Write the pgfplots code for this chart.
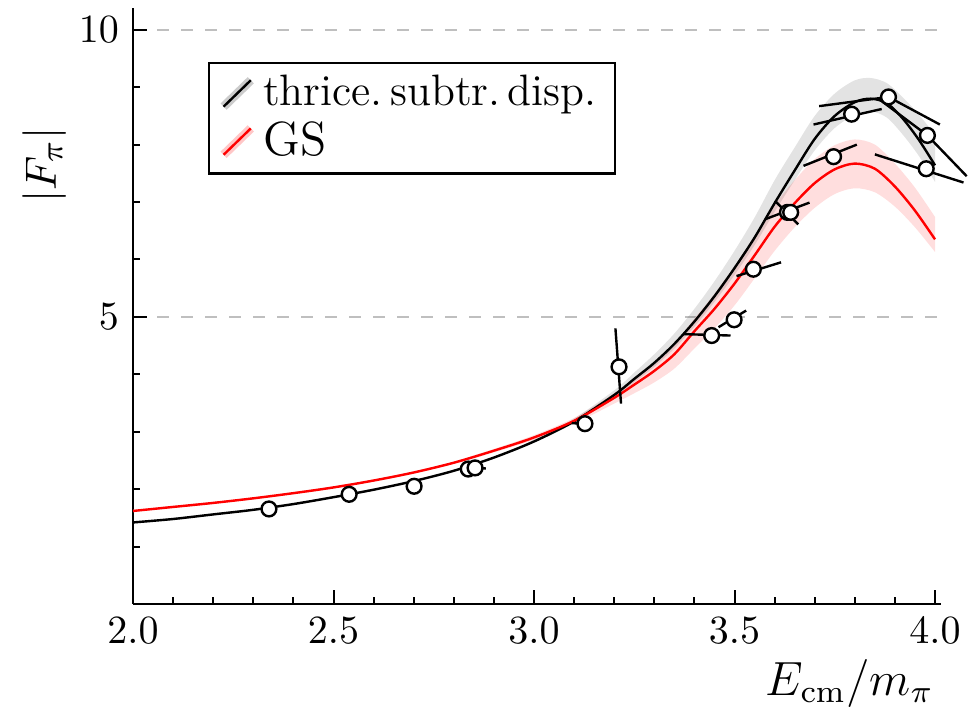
\documentclass[border=0pt]{standalone}
\usepackage{pgfplots}
\pgfplotsset{compat=1.18}
\usepackage{pgfplotstable}
\usepgfplotslibrary{fillbetween}

\pgfplotstableread{
x y u l
2.00 1.42 1.44 1.40
2.10 1.48 1.50 1.46
2.20 1.56 1.58 1.54
2.30 1.64 1.66 1.62
2.40 1.74 1.76 1.72
2.50 1.86 1.88 1.84
2.60 1.99 2.01 1.97
2.70 2.14 2.16 2.12
2.80 2.32 2.34 2.30
2.90 2.55 2.57 2.53
3.00 2.83 2.86 2.81
3.10 3.18 3.23 3.15
3.20 3.64 3.72 3.59
3.25 3.92 4.03 3.86
3.30 4.20 4.35 4.13
3.35 4.53 4.71 4.45
3.40 4.92 5.14 4.83
3.45 5.36 5.62 5.26
3.50 5.85 6.15 5.73
3.55 6.38 6.73 6.25
3.60 6.98 7.38 6.83
3.65 7.55 7.95 7.38
3.70 8.10 8.50 7.90
3.75 8.50 8.89 8.29
3.80 8.74 9.12 8.52
3.84 8.80 9.16 8.58
3.88 8.72 9.07 8.47
3.92 8.45 8.82 8.17
3.96 8.08 8.52 7.80
4.00 7.64 8.17 7.35
}\blackcurve

\pgfplotstableread{
x y u l
2.00 1.62 1.64 1.60
2.10 1.69 1.71 1.67
2.20 1.76 1.78 1.74
2.30 1.84 1.86 1.82
2.40 1.93 1.95 1.91
2.50 2.03 2.05 2.01
2.60 2.15 2.17 2.13
2.70 2.29 2.31 2.27
2.80 2.46 2.48 2.44
2.90 2.67 2.70 2.64
3.00 2.90 2.94 2.86
3.10 3.19 3.24 3.14
3.20 3.59 3.67 3.49
3.25 3.82 3.93 3.67
3.30 4.06 4.21 3.86
3.35 4.35 4.53 4.10
3.40 4.75 4.97 4.45
3.45 5.14 5.40 4.80
3.50 5.58 5.88 5.20
3.55 6.07 6.41 5.67
3.60 6.57 6.95 6.15
3.65 6.98 7.38 6.56
3.70 7.33 7.75 6.90
3.75 7.57 7.99 7.14
3.80 7.67 8.09 7.24
3.85 7.58 8.00 7.17
3.90 7.27 7.67 6.92
3.95 6.85 7.25 6.56
4.00 6.35 6.74 6.13
}\redcurve

\pgfplotstableread{
x y
2.339 1.655
2.539 1.91
2.701 2.05
2.836 2.35
2.853 2.37
3.127 3.14
3.212 4.13
3.443 4.675
3.499 4.95
3.547 5.83
3.632 6.82
3.640 6.82
3.747 7.79
3.792 8.53
3.884 8.83
3.981 8.16
3.978 7.58
}\points

\begin{document}
\begin{tikzpicture}
\begin{axis}[
  scale only axis,
  width=202pt, height=149pt,
  xmin=2, xmax=4.015, ymin=0, ymax=10.38,
  clip=false,
  axis lines=left,
  axis line style={-, line width=0.6pt},
  xtick={2,2.5,3,3.5,4},
  minor x tick num=4,
  ytick={5,10},
  minor ytick={1,2,3,4,6,7,8,9},
  tick align=inside,
  major tick length=3.5pt,
  minor tick length=1.75pt,
  tick style={line width=0.5pt, black},
  ymajorgrids,
  major grid style={dash pattern=on 3pt off 3pt, black!25, line width=0.4pt},
  xticklabel style={/pgf/number format/.cd, fixed, fixed zerofill, precision=1},
  ylabel={$|F_\pi|$},
  ylabel style={at={(axis description cs:-0.109,0.7366)}, anchor=center, font=\fontsize{11}{13}\selectfont},
  xlabel={$E_{\mathrm{cm}}/m_\pi$},
  xlabel style={at={(axis description cs:0.887,-0.1326)}, anchor=center, font=\fontsize{11.5}{13}\selectfont},
  legend cell align=left,
  legend style={at={(axis description cs:0.0928,0.9094)}, anchor=north west, draw=black, line width=0.6pt,
    inner xsep=2.5pt, inner ysep=1pt, row sep=-1.5pt},
]
% bands
\addplot[name path=ru, draw=none, smooth, forget plot] table[x=x,y=u]{\redcurve};
\addplot[name path=rl, draw=none, smooth, forget plot] table[x=x,y=l]{\redcurve};
\addplot[red!13, forget plot] fill between[of=ru and rl];
\addplot[name path=bu, draw=none, smooth, forget plot] table[x=x,y=u]{\blackcurve};
\addplot[name path=bl, draw=none, smooth, forget plot] table[x=x,y=l]{\blackcurve};
\addplot[fill=black, fill opacity=0.11, draw=none, forget plot] fill between[of=bu and bl];
% curves
\addplot[black, line width=0.6pt, smooth, forget plot] table[x=x,y=y]{\blackcurve};
\addplot[red, line width=0.6pt, smooth, forget plot] table[x=x,y=y]{\redcurve};
% error bars
\addplot[black, line width=0.6pt, forget plot] coordinates {(2.690,2.09) (2.716,1.99)};
\addplot[black, line width=0.6pt, forget plot] coordinates {(2.835,2.37) (2.880,2.36)};
\addplot[black, line width=0.6pt, forget plot] coordinates {(3.094,3.15) (3.140,3.13)};
\addplot[black, line width=0.6pt, forget plot] coordinates {(3.203,4.80) (3.217,3.49)};
\addplot[black, line width=0.6pt, forget plot] coordinates {(3.372,4.70) (3.490,4.675)};
\addplot[black, line width=0.6pt, forget plot] coordinates {(3.460,4.82) (3.529,5.11)};
\addplot[black, line width=0.6pt, forget plot] coordinates {(3.505,5.71) (3.616,5.95)};
\addplot[black, line width=0.6pt, forget plot] coordinates {(3.576,6.70) (3.687,6.99)};
\addplot[black, line width=0.6pt, forget plot] coordinates {(3.601,7.02) (3.659,6.61)};
\addplot[black, line width=0.6pt, forget plot] coordinates {(3.672,7.63) (3.805,8.00)};
\addplot[black, line width=0.6pt, forget plot] coordinates {(3.697,8.35) (3.867,8.62)};
\addplot[black, line width=0.6pt, forget plot] coordinates {(3.711,8.67) (3.884,8.83) (4.012,8.35)};
\addplot[black, line width=0.6pt, forget plot] coordinates {(3.859,8.80) (3.981,8.16) (4.079,7.45)};
\addplot[black, line width=0.6pt, forget plot] coordinates {(3.850,7.83) (4.071,7.34)};
% points
\addplot[only marks, mark=*, mark size=1.85pt, mark options={fill=white, draw=black, line width=0.6pt}, forget plot] table[x=x,y=y]{\points};
% legend
\addlegendimage{legend image code/.code={
  \draw[line width=2.2pt, black!20] (0pt,-3.3pt) -- (6.8pt,3.3pt);
  \draw[line width=0.6pt, black] (0pt,-3.3pt) -- (6.8pt,3.3pt);}}
\addlegendentry{\fontsize{11}{13}\selectfont thrice.\,subtr.\,disp.}
\addlegendimage{legend image code/.code={
  \draw[line width=2.2pt, red!22] (0pt,-3.3pt) -- (6.8pt,3.3pt);
  \draw[line width=0.6pt, red] (0pt,-3.3pt) -- (6.8pt,3.3pt);}}
\addlegendentry{\fontsize{12}{14}\selectfont GS}
% frame
\path (axis cs:1.6683,-1.7416) rectangle (axis cs:4.1097,10.519);
\end{axis}
\end{tikzpicture}
\end{document}
